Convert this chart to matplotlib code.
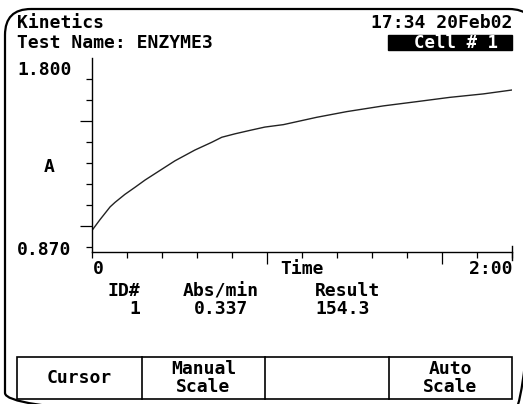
import matplotlib
matplotlib.use("Agg")
import matplotlib.pyplot as plt
from matplotlib.patches import FancyBboxPatch, Rectangle
from matplotlib.ticker import FixedLocator

# kinetics trace (time in s, absorbance)
time_s = [0, 2.2, 5.1, 6.5, 9.3, 12.2, 15.1, 19.8, 23.6, 29.3, 34.1, 37.0, 40.8,
          45.1, 49.3, 54.6, 64.1, 72.7, 83.1, 92.7, 102.1, 111.7, 119.8]
absorb = [0.952, 1.003, 1.066, 1.088, 1.127, 1.162, 1.198, 1.250, 1.292, 1.345, 1.383,
          1.408, 1.425, 1.442, 1.458, 1.470, 1.506, 1.534, 1.562, 1.583, 1.604, 1.621, 1.640]

y_min, y_max = 0.870, 1.800
x_max = 120
y_ticks = [y_min + k * (y_max - y_min) / 9 for k in range(9)]
x_ticks = list(range(0, 121, 10))

header = ["Kinetics", "Test Name: ENZYME3"]
stamp = "17:34 20Feb02"
cell = "Cell # 1"
result_cols = ["ID#", "Abs/min", "Result"]
result_vals = ["1", "0.337", "154.3"]
buttons = ["Cursor", "Manual\nScale", "", "Auto\nScale"]

W, H = 523, 404
font = dict(family="DejaVu Sans Mono", weight="bold", size=13, color="black")

fig = plt.figure(figsize=(W / 100, H / 100), dpi=100)
fig.patch.set_facecolor("white")

# background layer in pixel coordinates (y down)
bg = fig.add_axes([0, 0, 1, 1])
bg.set_xlim(0, W)
bg.set_ylim(H, 0)
bg.axis("off")

bg.add_patch(FancyBboxPatch((5, 9), 530, 410, boxstyle="round,pad=0,rounding_size=26",
                            fill=False, lw=1.6, ec="black"))

bg.text(17, 23.5, header[0], ha="left", va="center", **font)
bg.text(17, 42.5, header[1], ha="left", va="center", **font)
bg.text(512, 23.5, stamp, ha="right", va="center", **font)
bg.add_patch(Rectangle((388, 35), 124, 15, color="black"))
bg.text(456, 42.5, cell, ha="center", va="center", **{**font, "color": "white", "size": 12.5})

bg.text(17, 70, "1.800", ha="left", va="center", **font)
bg.text(17, 250, "0.870", ha="left", va="center", **font)
bg.text(49, 167, "A", ha="center", va="center", **font)
bg.text(93, 269, "0", ha="left", va="center", **font)
bg.text(302, 269, "Time", ha="center", va="center", **font)
bg.text(512, 269, "2:00", ha="right", va="center", **font)

bg.text(140, 291, result_cols[0], ha="right", va="center", **font)
bg.text(221, 291, result_cols[1], ha="center", va="center", **font)
bg.text(315, 291, result_cols[2], ha="left", va="center", **font)
bg.text(140, 309, result_vals[0], ha="right", va="center", **font)
bg.text(221, 309, result_vals[1], ha="center", va="center", **font)
bg.text(315, 309, result_vals[2], ha="left", va="center", **font)

# soft-key bar
edges = [17, 142, 265, 389, 512]
bg.add_patch(Rectangle((17, 357), 495, 42, fill=False, lw=1.2, ec="black"))
for xe in edges[1:-1]:
    bg.plot([xe, xe], [357, 399], color="black", lw=1.2)
for i, lab in enumerate(buttons):
    bg.text((edges[i] + edges[i + 1]) / 2, 378, lab, ha="center", va="center",
            linespacing=0.95, **font)

# plot area
top, bot, left, right = 57.5, 252, 92.3, 512.3
ax = fig.add_axes([left / W, 1 - bot / H, (right - left) / W, (bot - top) / H])
ax.set_facecolor("none")
ax.plot(time_s, absorb, color="#222222", lw=1.0)
ax.set_xlim(0, x_max)
per_px = (y_max - y_min) / (246.7 - top)
ax.set_ylim(y_min - (bot - 246.7) * per_px, y_max)
for s in ["top", "right"]:
    ax.spines[s].set_visible(False)
for s in ["left", "bottom"]:
    ax.spines[s].set_linewidth(1.0)

ax.yaxis.set_major_locator(FixedLocator([y_ticks[1], y_ticks[6]]))
ax.yaxis.set_minor_locator(FixedLocator([v for i, v in enumerate(y_ticks) if i not in (1, 6)]))
ax.xaxis.set_major_locator(FixedLocator([50, 100]))
ax.xaxis.set_minor_locator(FixedLocator([v for v in x_ticks if v not in (50, 100)]))
ax.tick_params(which="major", length=8.5, width=0.9, color="black", labelleft=False, labelbottom=False)
ax.tick_params(which="minor", length=4.5, width=0.9, color="black")
ax.axvline(x_max, ymin=-0.04, ymax=0.03, color="black", lw=1.0, clip_on=False)

fig.savefig("out.png", dpi=100, facecolor="white")
